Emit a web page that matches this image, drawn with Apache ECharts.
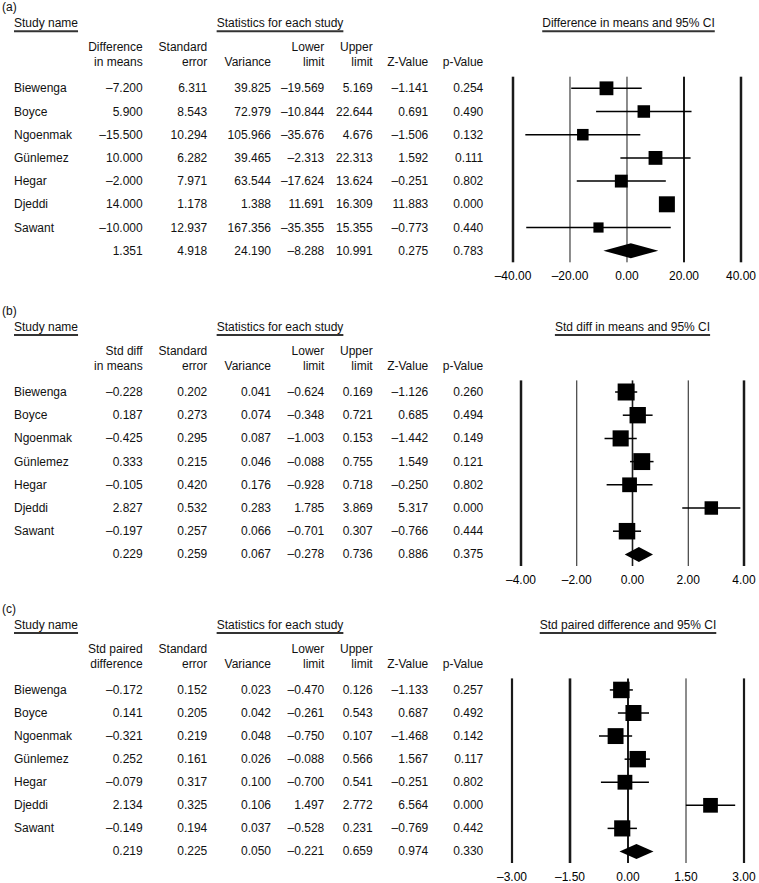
<!DOCTYPE html>
<html><head><meta charset="utf-8">
<script src="https://cdn.jsdelivr.net/npm/echarts@6/dist/echarts.min.js"></script>
<style>html,body{margin:0;padding:0;background:#fff}#c{width:759px;height:883px}</style>
</head><body><div id="c"></div>
<script>
// ---------- DATA ----------
const studies = ['Biewenga', 'Boyce', 'Ngoenmak', 'Günlemez', 'Hegar', 'Djeddi', 'Sawant', ''];

// Panel (a) – Difference in means
const aEffect = [-7.200, 5.900, -15.500, 10.000, -2.000, 14.000, -10.000, 1.351];
const aSE     = [6.311, 8.543, 10.294, 6.282, 7.971, 1.178, 12.937, 4.918];
const aVar    = [39.825, 72.979, 105.966, 39.465, 63.544, 1.388, 167.356, 24.190];
const aLower  = [-19.569, -10.844, -35.676, -2.313, -17.624, 11.691, -35.355, -8.288];
const aUpper  = [5.169, 22.644, 4.676, 22.313, 13.624, 16.309, 15.355, 10.991];
const aZ      = [-1.141, 0.691, -1.506, 1.592, -0.251, 11.883, -0.773, 0.275];
const aP      = [0.254, 0.490, 0.132, 0.111, 0.802, 0.000, 0.440, 0.783];
const aTicks  = [-40, -20, 0, 20, 40];

// Panel (b) – Std diff in means
const bEffect = [-0.228, 0.187, -0.425, 0.333, -0.105, 2.827, -0.197, 0.229];
const bSE     = [0.202, 0.273, 0.295, 0.215, 0.420, 0.532, 0.257, 0.259];
const bVar    = [0.041, 0.074, 0.087, 0.046, 0.176, 0.283, 0.066, 0.067];
const bLower  = [-0.624, -0.348, -1.003, -0.088, -0.928, 1.785, -0.701, -0.278];
const bUpper  = [0.169, 0.721, 0.153, 0.755, 0.718, 3.869, 0.307, 0.736];
const bZ      = [-1.126, 0.685, -1.442, 1.549, -0.250, 5.317, -0.766, 0.886];
const bP      = [0.260, 0.494, 0.149, 0.121, 0.802, 0.000, 0.444, 0.375];
const bTicks  = [-4, -2, 0, 2, 4];

// Panel (c) – Std paired difference
const cEffect = [-0.172, 0.141, -0.321, 0.252, -0.079, 2.134, -0.149, 0.219];
const cSE     = [0.152, 0.205, 0.219, 0.161, 0.317, 0.325, 0.194, 0.225];
const cVar    = [0.023, 0.042, 0.048, 0.026, 0.100, 0.106, 0.037, 0.050];
const cLower  = [-0.470, -0.261, -0.750, -0.088, -0.700, 1.497, -0.528, -0.221];
const cUpper  = [0.126, 0.543, 0.107, 0.566, 0.541, 2.772, 0.231, 0.659];
const cZ      = [-1.133, 0.687, -1.468, 1.567, -0.251, 6.564, -0.769, 0.974];
const cP      = [0.257, 0.492, 0.142, 0.117, 0.802, 0.000, 0.442, 0.330];
const cTicks  = [-3, -1.5, 0, 1.5, 3];

// ---------- LAYOUT / STYLE ----------
const FONT_FAMILY = '"Liberation Sans", Arial, Helvetica, sans-serif';
const FONT = '12px ' + FONT_FAMILY;
const TXT = '#111';
const ROW_H = 23.2;
const colRight = [142.7, 207.3, 271, 324.3, 372.7, 428.3, 483.3];

const panels = [
  { label: '(a)', effHead: ['Difference', 'in means'], plotTitle: 'Difference in means and 95% CI',
    eff: aEffect, se: aSE, vr: aVar, lo: aLower, up: aUpper, z: aZ, p: aP, ticks: aTicks,
    top: 76.7, left: 513, right: 744, maxSq: 16, lineW: [2.5, 1, 1, 2, 2.5] },
  { label: '(b)', effHead: ['Std diff', 'in means'], plotTitle: 'Std diff in means and 95% CI',
    eff: bEffect, se: bSE, vr: bVar, lo: bLower, up: bUpper, z: bZ, p: bP, ticks: bTicks,
    top: 380.4, left: 521, right: 744, maxSq: 17, lineW: [2.5, 1, 1.6, 1, 2.5] },
  { label: '(c)', effHead: ['Std paired', 'difference'], plotTitle: 'Std paired difference and 95% CI',
    eff: cEffect, se: cSE, vr: cVar, lo: cLower, up: cUpper, z: cZ, p: cP, ticks: cTicks,
    top: 678.4, left: 512, right: 744, maxSq: 16.5, lineW: [2.2, 2.6, 2, 1, 2.2] }
];

function fmt(v, d) {
  const s = Math.abs(v).toFixed(d);
  return (v < 0 && Number(s) !== 0 ? '\u2013' : '') + s;
}

// random-effects weights derived from the table (solve tau^2 so that the summary variance matches)
function solveTau2(vars, summaryVar) {
  const target = 1 / summaryVar;
  const f = t => vars.reduce((s, v) => s + 1 / (v + t), 0) - target;
  if (f(0) <= 0) return 0;
  let lo = 0, hi = 1e6;
  for (let k = 0; k < 200; k++) { const m = (lo + hi) / 2; if (f(m) > 0) lo = m; else hi = m; }
  return (lo + hi) / 2;
}

const mctx = document.createElement('canvas').getContext('2d');
mctx.font = FONT;
const tw = t => mctx.measureText(t).width;

const grids = [], xAxes = [], yAxes = [], series = [], graphics = [];

panels.forEach((P, gi) => {
  const n = P.eff.length;
  const studyVars = P.vr.slice(0, n - 1);
  const tau2 = solveTau2(studyVars, P.vr[n - 1]);
  const w = studyVars.map(v => 1 / (v + tau2));
  const wmax = Math.max(...w);
  const sizes = w.map(x => P.maxSq * Math.sqrt(x / wmax));

  grids.push({ left: P.left, top: P.top, width: P.right - P.left, height: ROW_H * 8 });
  const t0 = P.ticks[0], t1 = P.ticks[P.ticks.length - 1];
  xAxes.push({
    gridIndex: gi, type: 'value', min: t0, max: t1, interval: P.ticks[1] - P.ticks[0],
    axisLine: { show: false }, axisTick: { show: false }, splitLine: { show: false },
    axisLabel: { margin: 8, fontSize: 12, fontFamily: FONT_FAMILY, color: '#000',
      showMinLabel: true, showMaxLabel: true, formatter: v => fmt(v, 2) }
  });
  yAxes.push({ gridIndex: gi, type: 'value', min: -0.5, max: 7.5, inverse: true, show: false });

  // vertical reference lines at the ticks
  series.push({
    type: 'custom', xAxisIndex: gi, yAxisIndex: gi, silent: true, clip: false,
    data: P.ticks.map(t => [t]),
    encode: { x: 0 },
    renderItem: (params, api) => {
      const a = api.coord([api.value(0), -0.5]);
      const b = api.coord([api.value(0), 7.5]);
      return { type: 'line', shape: { x1: a[0], y1: a[1], x2: b[0], y2: b[1] },
        style: { stroke: '#1a1a1a', lineWidth: P.lineW[params.dataIndex] } };
    }
  });

  // squares, CI whiskers and summary diamond
  series.push({
    type: 'custom', xAxisIndex: gi, yAxisIndex: gi, silent: true, clip: false,
    data: P.eff.map((e, i) => [e, P.lo[i], P.up[i], i]),
    encode: { x: [0, 1, 2], y: 3 },
    renderItem: (params, api) => {
      const i = params.dataIndex;
      const c = api.coord([api.value(0), api.value(3)]);
      const l = api.coord([api.value(1), api.value(3)]);
      const u = api.coord([api.value(2), api.value(3)]);
      if (i === n - 1) {
        const h = 7.5;
        return { type: 'polygon',
          shape: { points: [[l[0], c[1]], [c[0], c[1] - h], [u[0], c[1]], [c[0], c[1] + h]] },
          style: { fill: '#000' } };
      }
      const s = sizes[i];
      return { type: 'group', children: [
        { type: 'line', shape: { x1: l[0], y1: c[1], x2: u[0], y2: c[1] }, style: { stroke: '#000', lineWidth: 1.5 } },
        { type: 'rect', shape: { x: c[0] - s / 2, y: c[1] - s / 2, width: s, height: s }, style: { fill: '#000' } }
      ] };
    }
  });

  // table rows
  series.push({
    type: 'custom', xAxisIndex: gi, yAxisIndex: gi, silent: true, clip: false,
    data: P.eff.map((e, i) => [t0, i]),
    encode: { x: 0, y: 1 },
    renderItem: (params, api) => {
      const i = params.dataIndex;
      const y = api.coord([t0, api.value(1)])[1];
      const vals = [fmt(P.eff[i], 3), fmt(P.se[i], 3), fmt(P.vr[i], 3), fmt(P.lo[i], 3), fmt(P.up[i], 3), fmt(P.z[i], 3), fmt(P.p[i], 3)];
      const ch = [{ type: 'text', style: { text: studies[i], x: 14, y: y, fill: TXT, font: FONT,
        align: 'left', textAlign: 'left', verticalAlign: 'middle', textVerticalAlign: 'middle' } }];
      vals.forEach((t, k) => ch.push({ type: 'text', style: { text: t, x: colRight[k], y: y, fill: TXT, font: FONT,
        align: 'right', textAlign: 'right', verticalAlign: 'middle', textVerticalAlign: 'middle' } }));
      return { type: 'group', children: ch };
    }
  });

  // headers (graphic)
  const row0 = P.top + ROW_H * 0.5;
  const yHead = row0 - 65;
  const yH1 = row0 - 41, yH2 = row0 - 26;
  const txt = (t, x, y, align) => graphics.push({ type: 'text', silent: true,
    style: { text: t, x: x, y: y, fill: TXT, font: FONT, align: align, textAlign: align, verticalAlign: 'middle', textVerticalAlign: 'middle' } });
  const uline = (x1, x2, y) => graphics.push({ type: 'line', silent: true,
    shape: { x1: x1, y1: y, x2: x2, y2: y }, style: { stroke: '#333', lineWidth: 2 } });

  txt(P.label, 2, row0 - 81, 'left');
  txt('Study name', 14, yHead, 'left');
  uline(14, 14 + tw('Study name'), yHead + 8);
  const sx = 280, sw = tw('Statistics for each study');
  txt('Statistics for each study', sx, yHead, 'center');
  uline(sx - sw / 2, sx + sw / 2, yHead + 8);
  const px = (P.left + P.right) / 2, pw = tw(P.plotTitle);
  txt(P.plotTitle, px, yHead, 'center');
  uline(px - pw / 2, px + pw / 2, yHead + 8);

  const heads = [P.effHead, ['Standard', 'error'], ['', 'Variance'], ['Lower', 'limit'], ['Upper', 'limit'], ['', 'Z-Value'], ['', 'p-Value']];
  heads.forEach((h, k) => {
    if (h[0]) txt(h[0], colRight[k], yH1, 'right');
    txt(h[1], colRight[k], yH2, 'right');
  });
});

const chart = echarts.init(document.getElementById('c'), null, { renderer: 'svg', width: 759, height: 883 });
chart.setOption({
  animation: false,
  backgroundColor: '#fff',
  textStyle: { fontFamily: FONT_FAMILY },
  grid: grids, xAxis: xAxes, yAxis: yAxes, series: series,
  graphic: { elements: graphics }
});
</script>
</body></html>
